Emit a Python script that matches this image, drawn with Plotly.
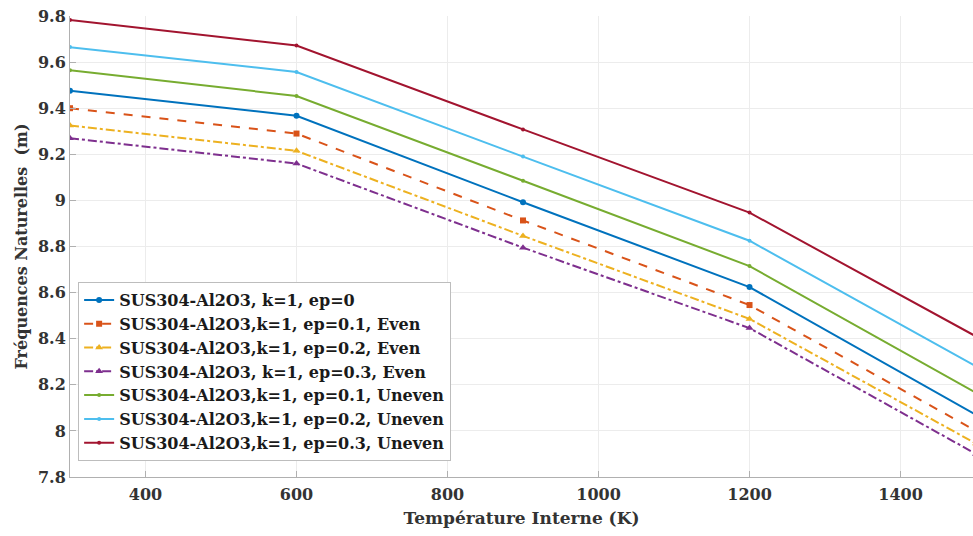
import plotly.graph_objects as go

# Température interne (K)
temperature = [300, 600, 900, 1200, 1500]

# Fréquences naturelles for each case
ep0 = [9.476, 9.367, 8.992, 8.624, 8.07]
ep01_even = [9.400, 9.290, 8.913, 8.546, 8.00]
ep02_even = [9.325, 9.215, 8.846, 8.486, 7.945]
ep03_even = [9.270, 9.160, 8.795, 8.446, 7.90]
ep01_uneven = [9.565, 9.453, 9.085, 8.715, 8.165]
ep02_uneven = [9.665, 9.557, 9.190, 8.825, 8.28]
ep03_uneven = [9.783, 9.672, 9.308, 8.947, 8.41]

series = [
    ("SUS304-Al2O3, k=1, ep=0", ep0, "#0072BD", "solid", "circle", 6),
    ("SUS304-Al2O3,k=1, ep=0.1, Even", ep01_even, "#D95319", "dash", "square", 6),
    ("SUS304-Al2O3,k=1, ep=0.2, Even", ep02_even, "#EDB120", "dashdot", "triangle-up", 7),
    ("SUS304-Al2O3, k=1, ep=0.3, Even", ep03_even, "#7E2F8E", "dashdot", "triangle-up", 7),
    ("SUS304-Al2O3,k=1, ep=0.1, Uneven", ep01_uneven, "#77AC30", "solid", "circle", 4),
    ("SUS304-Al2O3,k=1, ep=0.2, Uneven", ep02_uneven, "#4DBEEE", "solid", "circle", 4),
    ("SUS304-Al2O3,k=1, ep=0.3, Uneven", ep03_uneven, "#A2142F", "solid", "circle", 4),
]

fig = go.Figure()
for name, vals, color, dash, symbol, msize in series:
    fig.add_trace(
        go.Scatter(
            x=temperature,
            y=vals,
            name=name,
            mode="lines+markers",
            line=dict(color=color, width=2, dash=dash),
            marker=dict(symbol=symbol, size=msize, color=color),
        )
    )

font_family = "DejaVu Serif"
fig.update_layout(
    width=973,
    height=536,
    plot_bgcolor="white",
    paper_bgcolor="white",
    margin=dict(l=70, r=0, t=16, b=59),
    font=dict(family=font_family, size=15, color="#262626"),
    legend=dict(
        x=0.009,
        y=0.423,
        xanchor="left",
        yanchor="top",
        bgcolor="white",
        bordercolor="#bdbdbd",
        borderwidth=1,
        font=dict(family=font_family, size=16, color="#1a1a1a", weight="bold"),
        tracegroupgap=0,
        itemwidth=30,
    ),
    xaxis=dict(
        range=[300, 1496],
        tickvals=[400, 600, 800, 1000, 1200, 1400],
        automargin=False,
        showgrid=True,
        gridcolor="#ececec",
        showline=True,
        linecolor="#b0b0b0",
        ticks="inside",
        ticklen=6,
        tickcolor="#b0b0b0",
        ticklabelstandoff=3,
        zeroline=False,
        tickfont=dict(family=font_family, size=16, color="#333333", weight="bold"),
        title=dict(
            text="<b>Température Interne (K)</b>",
            font=dict(family=font_family, size=17, color="#333333"),
            standoff=8,
        ),
    ),
    yaxis=dict(
        range=[7.8, 9.8],
        tickvals=[7.8, 8, 8.2, 8.4, 8.6, 8.8, 9, 9.2, 9.4, 9.6, 9.8],
        ticktext=["7.8", "8", "8.2", "8.4", "8.6", "8.8", "9", "9.2", "9.4", "9.6", "9.8"],
        automargin=False,
        showgrid=True,
        gridcolor="#ececec",
        showline=True,
        linecolor="#b0b0b0",
        ticks="inside",
        ticklen=6,
        tickcolor="#b0b0b0",
        zeroline=False,
        tickfont=dict(family=font_family, size=16, color="#333333", weight="bold"),
        title=dict(
            text="<b>Fréquences Naturelles  (m)</b>",
            font=dict(family=font_family, size=16, color="#333333"),
            standoff=6,
        ),
    ),
)

# drop the default page margin so the figure sits at the window's top-left corner
fig.write_html(
    "out.html",
    config={"displayModeBar": False},
    post_script="document.body.style.margin='0';document.body.style.overflow='hidden';",
)
